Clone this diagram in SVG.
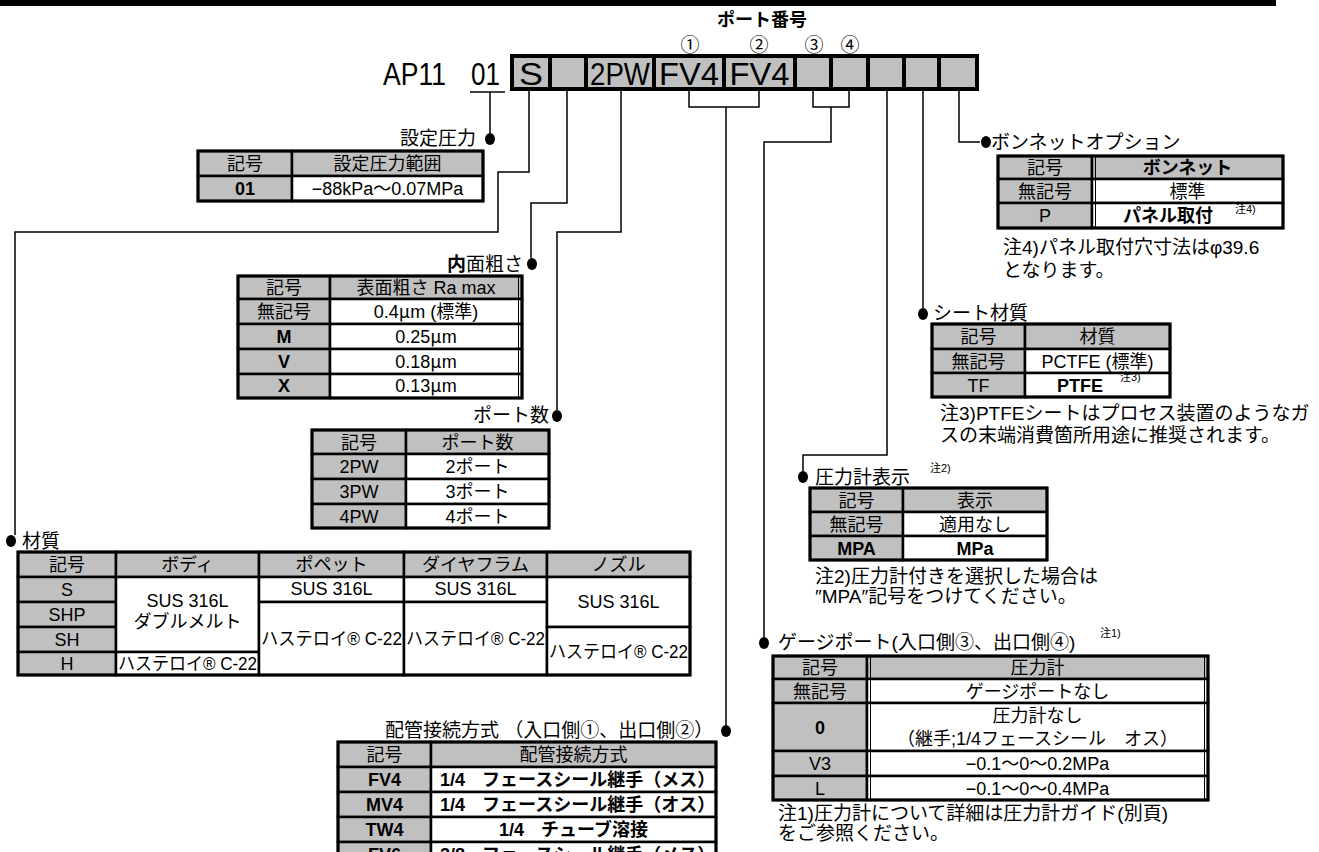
<svg xmlns="http://www.w3.org/2000/svg" width="1319" height="852" viewBox="0 0 1319 852">
<style>
.tx{font-family:"Liberation Sans","Noto Sans CJK JP",sans-serif;font-size:18px;fill:#000}
.lb{font-size:19px}
.m{text-anchor:middle}
.e{text-anchor:end}
.b{font-weight:bold}
.big{font-size:32px}
.sup{font-size:11px}
.mu{font-family:"Noto Sans CJK JP",sans-serif}
.g{fill:#c0c0c0;stroke:#000;stroke-width:2.5}
.w{fill:#fff;stroke:#000;stroke-width:2.5}
.o{fill:none;stroke:#000;stroke-width:3}
.ln{fill:none;stroke:#000;stroke-width:1.5}
.dl{fill:none;stroke:#000;stroke-width:1}
.dot{fill:#000}
</style>
<rect width="1319" height="852" fill="#fff"/>

<g id="header">
<rect x="0" y="0" width="1276" height="6" fill="#000"/>
<text class="tx m b" x="762" y="26" font-size="17">ポート番号</text>
<text class="tx m lb" x="690" y="52">①</text>
<text class="tx m lb" x="759" y="52">②</text>
<text class="tx m lb" x="814" y="52">③</text>
<text class="tx m lb" x="850" y="52">④</text>
<text class="tx big" x="383" y="85" textLength="63" lengthAdjust="spacingAndGlyphs">AP11</text>
<text class="tx big" x="471" y="85" textLength="29" lengthAdjust="spacingAndGlyphs">01</text>
<line x1="470" y1="92" x2="505" y2="92" stroke="#000" stroke-width="1.5"/>
<rect x="510" y="54" width="469" height="37" fill="#000"/>
<rect x="514" y="58" width="34" height="29" fill="#c0c0c0"/>
<rect x="552" y="58" width="32" height="29" fill="#c0c0c0"/>
<rect x="588" y="58" width="64" height="29" fill="#c0c0c0"/>
<rect x="656" y="58" width="66" height="29" fill="#c0c0c0"/>
<rect x="726" y="58" width="67" height="29" fill="#c0c0c0"/>
<rect x="797" y="58" width="32" height="29" fill="#c0c0c0"/>
<rect x="833" y="58" width="33" height="29" fill="#c0c0c0"/>
<rect x="870" y="58" width="32" height="29" fill="#c0c0c0"/>
<rect x="906" y="58" width="31" height="29" fill="#c0c0c0"/>
<rect x="941" y="58" width="34" height="29" fill="#c0c0c0"/>
<text class="tx big m" x="531" y="85" textLength="24" lengthAdjust="spacingAndGlyphs">S</text>
<text class="tx big m" x="620" y="85" textLength="60" lengthAdjust="spacingAndGlyphs">2PW</text>
<text class="tx big m" x="689" y="85" textLength="60" lengthAdjust="spacingAndGlyphs">FV4</text>
<text class="tx big m" x="759.5" y="85" textLength="60" lengthAdjust="spacingAndGlyphs">FV4</text>
</g>

<g id="connectors">
<g class="ln">
<path d="M490 92V133"/>
<path d="M529 91V172H498V232H15V535"/>
<path d="M567 91V203H531V258"/>
<path d="M621 91V232H557V410"/>
<path d="M689 91V107H759V91M726 107V725"/>
<path d="M813 91V107H849V91M831 107V142H764V637"/>
<path d="M887 91V455H803V471"/>
<path d="M923 91V308"/>
<path d="M959 88V142H980"/>
</g>
<g class="dot">
<ellipse cx="490" cy="139" rx="5" ry="6"/>
<ellipse cx="11" cy="541" rx="5" ry="6"/>
<ellipse cx="532" cy="264" rx="5" ry="6"/>
<ellipse cx="557" cy="416" rx="5" ry="6"/>
<ellipse cx="726" cy="731" rx="5" ry="6"/>
<ellipse cx="764" cy="643" rx="5" ry="6"/>
<ellipse cx="803" cy="477" rx="5" ry="6"/>
<ellipse cx="923" cy="314" rx="5" ry="6"/>
<ellipse cx="986" cy="142" rx="5" ry="6"/>
</g>
</g>

<g id="setpressure">
<text class="tx lb e" x="476" y="145">設定圧力</text>
<rect class="g" x="198" y="151" width="94" height="25"/>
<rect class="g" x="292" y="151" width="191" height="25"/>
<rect class="g" x="198" y="176" width="94" height="25"/>
<rect class="w" x="292" y="176" width="191" height="25"/>
<rect class="o" x="198" y="151" width="285" height="50"/>
<text class="tx m" x="245" y="170">記号</text>
<text class="tx m" x="387.5" y="170">設定圧力範囲</text>
<text class="tx m b" x="245" y="195">01</text>
<text class="tx m" x="387.5" y="195">−88kPa〜0.07MPa</text>
</g>

<g id="roughness">
<text class="tx lb e" x="523" y="271"><tspan class="b">内</tspan>面粗さ</text>
<rect class="g" x="238" y="276" width="92" height="23"/>
<rect class="g" x="330" y="276" width="192" height="23"/>
<rect class="g" x="238" y="299" width="92" height="25"/>
<rect class="w" x="330" y="299" width="192" height="25"/>
<rect class="g" x="238" y="324" width="92" height="25"/>
<rect class="w" x="330" y="324" width="192" height="25"/>
<rect class="g" x="238" y="349" width="92" height="25"/>
<rect class="w" x="330" y="349" width="192" height="25"/>
<rect class="g" x="238" y="374" width="92" height="24"/>
<rect class="w" x="330" y="374" width="192" height="24"/>
<rect class="o" x="238" y="276" width="284" height="122"/>
<path class="dl" d="M518.5 276V398"/>
<text class="tx m" x="284" y="294">記号</text>
<text class="tx m" x="426" y="294">表面粗さ Ra max</text>
<text class="tx m" x="284" y="318">無記号</text>
<text class="tx m" x="426" y="318">0.4<tspan class="mu">μ</tspan>m (標準)</text>
<text class="tx m b" x="284" y="343">M</text>
<text class="tx m" x="426" y="343">0.25<tspan class="mu">μ</tspan>m</text>
<text class="tx m b" x="284" y="368">V</text>
<text class="tx m" x="426" y="368">0.18<tspan class="mu">μ</tspan>m</text>
<text class="tx m b" x="284" y="392">X</text>
<text class="tx m" x="426" y="392">0.13<tspan class="mu">μ</tspan>m</text>
</g>

<g id="ports">
<text class="tx lb e" x="549" y="422">ポート数</text>
<rect class="g" x="312" y="430" width="94" height="24"/>
<rect class="g" x="406" y="430" width="143" height="24"/>
<rect class="g" x="312" y="454" width="94" height="25"/>
<rect class="w" x="406" y="454" width="143" height="25"/>
<rect class="g" x="312" y="479" width="94" height="25"/>
<rect class="w" x="406" y="479" width="143" height="25"/>
<rect class="g" x="312" y="504" width="94" height="24"/>
<rect class="w" x="406" y="504" width="143" height="24"/>
<rect class="o" x="312" y="430" width="237" height="98"/>
<text class="tx m" x="359" y="448.5">記号</text>
<text class="tx m" x="477.5" y="448.5">ポート数</text>
<text class="tx m" x="359" y="473">2PW</text>
<text class="tx m" x="477.5" y="473">2ポート</text>
<text class="tx m" x="359" y="498">3PW</text>
<text class="tx m" x="477.5" y="498">3ポート</text>
<text class="tx m" x="359" y="522.5">4PW</text>
<text class="tx m" x="477.5" y="522.5">4ポート</text>
</g>

<g id="material">
<text class="tx lb" x="22" y="548">材質</text>
<rect class="g" x="18" y="552" width="98" height="25"/>
<rect class="g" x="116" y="552" width="143" height="25"/>
<rect class="g" x="259" y="552" width="145" height="25"/>
<rect class="g" x="404" y="552" width="143" height="25"/>
<rect class="g" x="547" y="552" width="143" height="25"/>
<rect class="g" x="18" y="577" width="98" height="25"/>
<rect class="g" x="18" y="602" width="98" height="25"/>
<rect class="g" x="18" y="627" width="98" height="25"/>
<rect class="g" x="18" y="652" width="98" height="23"/>
<rect class="w" x="116" y="577" width="143" height="75"/>
<rect class="w" x="116" y="652" width="143" height="23"/>
<rect class="w" x="259" y="577" width="145" height="25"/>
<rect class="w" x="259" y="602" width="145" height="73"/>
<rect class="w" x="404" y="577" width="143" height="25"/>
<rect class="w" x="404" y="602" width="143" height="73"/>
<rect class="w" x="547" y="577" width="143" height="50"/>
<rect class="w" x="547" y="627" width="143" height="48"/>
<rect class="o" x="18" y="552" width="672" height="123"/>
<text class="tx m" x="67" y="571">記号</text>
<text class="tx m" x="187.5" y="571">ボディ</text>
<text class="tx m" x="331.5" y="571">ポペット</text>
<text class="tx m" x="475.5" y="571">ダイヤフラム</text>
<text class="tx m" x="618.5" y="571">ノズル</text>
<text class="tx m" x="67" y="596">S</text>
<text class="tx m" x="67" y="621">SHP</text>
<text class="tx m" x="67" y="646">SH</text>
<text class="tx m" x="67" y="670">H</text>
<text class="tx m" x="187.5" y="607">SUS 316L</text>
<text class="tx m" x="187.5" y="628">ダブルメルト</text>
<text class="tx" x="118" y="670" textLength="139" lengthAdjust="spacingAndGlyphs">ハステロイ® C-22</text>
<text class="tx m" x="331.5" y="595">SUS 316L</text>
<text class="tx" x="261" y="645" textLength="141" lengthAdjust="spacingAndGlyphs">ハステロイ® C-22</text>
<text class="tx m" x="475.5" y="595">SUS 316L</text>
<text class="tx" x="406" y="645" textLength="139" lengthAdjust="spacingAndGlyphs">ハステロイ® C-22</text>
<text class="tx m" x="618.5" y="608">SUS 316L</text>
<text class="tx" x="549" y="658" textLength="139" lengthAdjust="spacingAndGlyphs">ハステロイ® C-22</text>
</g>

<g id="piping">
<text class="tx lb" x="385" y="737">配管接続方式 （入口側①、出口側②）</text>
<rect class="g" x="338" y="742" width="93" height="25"/>
<rect class="g" x="431" y="742" width="285" height="25"/>
<rect class="g" x="338" y="767" width="93" height="25"/>
<rect class="w" x="431" y="767" width="285" height="25"/>
<rect class="g" x="338" y="792" width="93" height="25"/>
<rect class="w" x="431" y="792" width="285" height="25"/>
<rect class="g" x="338" y="817" width="93" height="25"/>
<rect class="w" x="431" y="817" width="285" height="25"/>
<rect class="g" x="338" y="842" width="93" height="25"/>
<rect class="w" x="431" y="842" width="285" height="25"/>
<rect class="o" x="338" y="742" width="378" height="125"/>
<text class="tx m" x="384.5" y="760.5">記号</text>
<text class="tx m" x="573.5" y="760.5">配管接続方式</text>
<text class="tx m b" x="384.5" y="786">FV4</text>
<text class="tx b" x="440" y="786">1/4<tspan dx="17">フェースシール継手（メス）</tspan></text>
<text class="tx m b" x="384.5" y="811">MV4</text>
<text class="tx b" x="440" y="811">1/4<tspan dx="17">フェースシール継手（オス）</tspan></text>
<text class="tx m b" x="384.5" y="836">TW4</text>
<text class="tx m b" x="573.5" y="836">1/4<tspan dx="17">チューブ溶接</tspan></text>
<text class="tx m b" x="384.5" y="861">FV6</text>
<text class="tx b" x="440" y="861">3/8<tspan dx="17">フェースシール継手（メス）</tspan></text>
</g>

<g id="gaugeport">
<text class="tx lb" x="778" y="649">ゲージポート(入口側③、出口側④)</text>
<text class="tx sup" x="1100" y="637">注1)</text>
<rect class="g" x="773" y="656" width="94" height="23"/>
<rect class="g" x="867" y="656" width="341" height="23"/>
<rect class="g" x="773" y="679" width="94" height="24"/>
<rect class="w" x="867" y="679" width="341" height="24"/>
<rect class="g" x="773" y="703" width="94" height="48"/>
<rect class="w" x="867" y="703" width="341" height="48"/>
<rect class="g" x="773" y="751" width="94" height="25"/>
<rect class="w" x="867" y="751" width="341" height="25"/>
<rect class="g" x="773" y="776" width="94" height="24"/>
<rect class="w" x="867" y="776" width="341" height="24"/>
<rect class="o" x="773" y="656" width="435" height="144"/>
<path class="dl" d="M870.5 656V800M1204.5 656V800"/>
<text class="tx m" x="820" y="673.5">記号</text>
<text class="tx m" x="1037.5" y="673.5">圧力計</text>
<text class="tx m" x="820" y="697.5">無記号</text>
<text class="tx m" x="1037.5" y="697.5">ゲージポートなし</text>
<text class="tx m b" x="820" y="733.5">0</text>
<text class="tx m" x="1037.5" y="721.5">圧力計なし</text>
<text class="tx m" x="1037.5" y="744.5">（継手;1/4フェースシール　オス）</text>
<text class="tx m" x="820" y="769.5">V3</text>
<text class="tx m" x="1037.5" y="769.5">−0.1〜0〜0.2MPa</text>
<text class="tx m" x="820" y="794.5">L</text>
<text class="tx m" x="1037.5" y="794.5">−0.1〜0〜0.4MPa</text>
<text class="tx lb" x="778" y="820">注1)圧力計について詳細は圧力計ガイド(別頁)</text>
<text class="tx lb" x="778" y="840">をご参照ください。</text>
</g>

<g id="gaugedisplay">
<text class="tx lb" x="815" y="484">圧力計表示</text>
<text class="tx sup" x="930" y="472">注2)</text>
<rect class="g" x="810" y="488" width="93" height="24"/>
<rect class="g" x="903" y="488" width="144" height="24"/>
<rect class="g" x="810" y="512" width="93" height="24"/>
<rect class="w" x="903" y="512" width="144" height="24"/>
<rect class="g" x="810" y="536" width="93" height="24"/>
<rect class="w" x="903" y="536" width="144" height="24"/>
<rect class="o" x="810" y="488" width="237" height="72"/>
<text class="tx m" x="856.5" y="506.5">記号</text>
<text class="tx m" x="975" y="506.5">表示</text>
<text class="tx m" x="856.5" y="530.5">無記号</text>
<text class="tx m" x="975" y="530.5">適用なし</text>
<text class="tx m b" x="856.5" y="554.5">MPA</text>
<text class="tx m b" x="975" y="554.5">MPa</text>
<text class="tx lb" x="815" y="583">注2)圧力計付きを選択した場合は</text>
<text class="tx lb" x="815" y="603">″MPA″記号をつけてください。</text>
</g>

<g id="seat">
<text class="tx lb" x="933" y="320">シート材質</text>
<rect class="g" x="932" y="324" width="93" height="25"/>
<rect class="g" x="1025" y="324" width="145" height="25"/>
<rect class="g" x="932" y="349" width="93" height="24"/>
<rect class="w" x="1025" y="349" width="145" height="24"/>
<rect class="g" x="932" y="373" width="93" height="24"/>
<rect class="w" x="1025" y="373" width="145" height="24"/>
<rect class="o" x="932" y="324" width="238" height="73"/>
<text class="tx m" x="978.5" y="343">記号</text>
<text class="tx m" x="1097.5" y="343">材質</text>
<text class="tx m" x="978.5" y="367.5">無記号</text>
<text class="tx m" x="1097.5" y="367.5">PCTFE (標準)</text>
<text class="tx m" x="978.5" y="391.5">TF</text>
<text class="tx m b" x="1080" y="391.5">PTFE</text>
<text class="tx sup" x="1120" y="381">注3)</text>
<text class="tx lb" x="940" y="420">注3)PTFEシートはプロセス装置のようなガ</text>
<text class="tx lb" x="940" y="442">スの末端消費箇所用途に推奨されます。</text>
</g>

<g id="bonnet">
<text class="tx lb" x="991" y="149">ボンネットオプション</text>
<rect class="g" x="998" y="156" width="94" height="23"/>
<rect class="g" x="1092" y="156" width="191" height="23"/>
<rect class="g" x="998" y="179" width="94" height="24"/>
<rect class="w" x="1092" y="179" width="191" height="24"/>
<rect class="g" x="998" y="203" width="94" height="25"/>
<rect class="w" x="1092" y="203" width="191" height="25"/>
<rect class="o" x="998" y="156" width="285" height="72"/>
<path class="dl" d="M1095.5 156V228"/>
<text class="tx m" x="1045" y="174">記号</text>
<text class="tx m b" x="1187.5" y="174">ボンネット</text>
<text class="tx m" x="1045" y="197.5">無記号</text>
<text class="tx m" x="1187.5" y="197.5">標準</text>
<text class="tx m" x="1045" y="222">P</text>
<text class="tx m b" x="1168" y="222">パネル取付</text>
<text class="tx sup" x="1235" y="213">注4)</text>
<text class="tx lb" x="1003" y="254">注4)パネル取付穴寸法はφ39.6</text>
<text class="tx lb" x="1003" y="277">となります。</text>
</g>
</svg>
